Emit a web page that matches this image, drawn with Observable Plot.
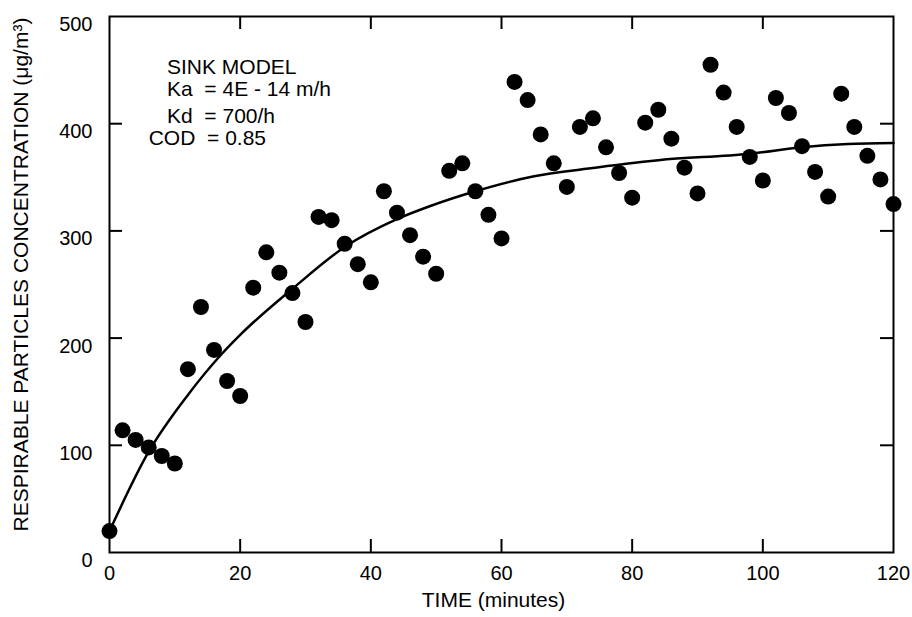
<!DOCTYPE html>
<html><head><meta charset="utf-8">
<script src="https://cdn.jsdelivr.net/npm/d3@7"></script>
<script src="https://cdn.jsdelivr.net/npm/@observablehq/plot@0.6"></script>
<style>body{margin:0;background:#fff}</style>
</head><body><div id="chart"></div>
<script>
// Measured concentrations (µg/m³) every 2 minutes
const time = [0,2,4,6,8,10,12,14,16,18,20,22,24,26,28,30,32,34,36,38,40,42,44,46,48,50,52,54,56,58,60,62,64,66,68,70,72,74,76,78,80,82,84,86,88,90,92,94,96,98,100,102,104,106,108,110,112,114,116,118,120];
const conc = [20,114,105,98,90,83,171,229,189,160,146,247,280,261,242,215,313,310,288,269,252,337,317,296,276,260,356,363,337,315,293,439,422,390,363,341,397,405,378,354,331,401,413,386,359,335,455,429,397,369,347,424,410,379,355,332,428,397,370,348,325];
// Sink model fit curve
const fitTime = [0,6,12,17,20,28,36,44,49,56,65,73,84,98,106,113,120];
const fitConc = [20,94,147,184,203,246,285,311,323,337,351,358,366,372,378,381,382];
const xTicks = [0,20,40,60,80,100,120];
const yTicks = [0,100,200,300,400,500];
const annotation = ["SINK MODEL", "Ka\u00a0\u00a0= 4E - 14 m/h", "Kd\u00a0\u00a0= 700/h", "COD\u00a0\u00a0= 0.85"];
const xLabel = "TIME (minutes)";
const yLabel = "RESPIRABLE PARTICLES CONCENTRATION (\u03bcg/m\u00b3)";

const W = 912, H = 617, mL = 109, mR = 19, mT = 16, mB = 65;
const pw = W - mL - mR, ph = H - mT - mB, tk = 13;
const points = time.map((t, i) => ({t, c: conc[i]}));
const fit = fitTime.map((t, i) => ({t, c: fitConc[i]}));
const annX = [8.8, 8.8, 8.8, 6.0], annY = [453, 432, 407, 386];
const innerX = xTicks.slice(1, -1), innerY = yTicks.slice(1, -1);

const chart = Plot.plot({
  width: W, height: H, marginLeft: mL, marginRight: mR, marginTop: mT, marginBottom: mB,
  x: {domain: [0, 120]},
  y: {domain: [0, 500]},
  style: {fontFamily: "'Liberation Sans', Arial, sans-serif", fontSize: "20px", color: "#000", background: "#fff"},
  marks: [
    Plot.axisX(xTicks, {tickSize: 0, tickPadding: 13, fontSize: 20, label: null}),
    Plot.axisY(yTicks, {tickSize: 0, tickPadding: 17, dy: 8, fontSize: 20, label: null}),
    Plot.tickX(innerX, {x: d => d, insetTop: ph - tk, stroke: "#000", strokeWidth: 2}),
    Plot.tickX(innerX, {x: d => d, insetBottom: ph - tk, stroke: "#000", strokeWidth: 2}),
    Plot.tickY(innerY, {y: d => d, insetRight: pw - tk, stroke: "#000", strokeWidth: 2}),
    Plot.tickY(innerY, {y: d => d, insetLeft: pw - tk, stroke: "#000", strokeWidth: 2}),
    Plot.line(fit, {x: "t", y: "c", curve: "monotone-x", stroke: "#000", strokeWidth: 2.5}),
    Plot.dot(points, {x: "t", y: "c", r: 8, fill: "#000"}),
    Plot.frame({stroke: "#000", strokeWidth: 2}),
    Plot.text([xLabel], {text: d => d, frameAnchor: "bottom", dy: 54, dx: -8, fontSize: 21, fill: "#000"}),
    Plot.text([yLabel], {text: d => d, frameAnchor: "left", textAnchor: "middle", rotate: -90, dx: -88, dy: -10, fontSize: 21, fill: "#000"}),
    Plot.text(annotation, {text: d => d, x: (d, i) => annX[i], y: (d, i) => annY[i], textAnchor: "start", fontSize: 21, fill: "#000"})
  ]
});
document.getElementById("chart").appendChild(chart);
</script>
</body></html>
